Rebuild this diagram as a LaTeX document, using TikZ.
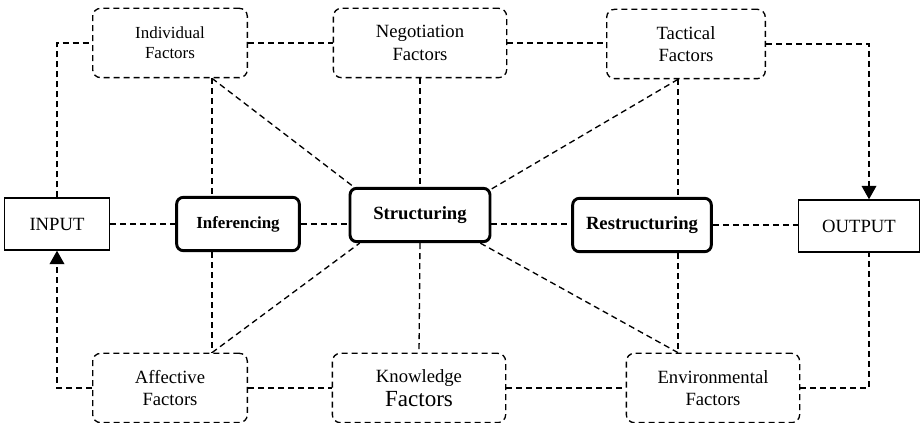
\documentclass[tikz,border=0pt]{standalone}
\usepackage{fontspec}
\setmainfont{Liberation Serif}
\usetikzlibrary{arrows.meta}

\tikzset{
  link/.style={dash pattern=on 4.5pt off 3pt,line width=1pt},
  tip/.style={-{Triangle[width=11pt,length=10pt]}}
}

\begin{document}
\begin{tikzpicture}[x=0.75pt,y=-0.75pt]

      \useasboundingbox (0,0) rectangle (924,423);

      % columns for the vertical links
      \coordinate (colA) at (212,0);
      \coordinate (colC) at (678,0);
      \coordinate (colR) at (869,0);

      \begin{scope}[every node/.style={draw,link,rounded corners=6pt,align=center,
          minimum height=52pt,font=\fontsize{14}{17}\selectfont}]
        \node[minimum width=116pt,font=\fontsize{12.7}{15}\selectfont] (indiv) at (170,43) {Individual\\Factors};
        \node[minimum width=130pt] (negot)  at (420,43)  {Negotiation\\Factors};
        \node[minimum width=119pt] (tactic) at (686,44)  {Tactical\\Factors};
        \node[minimum width=116pt] (affect) at (170,388) {Affective\\Factors};
        \node[minimum width=130pt] (knowl)  at (419,388) {Knowledge\\[1pt]{\fontsize{17.3}{20}\selectfont Factors}};
        \node[minimum width=130pt] (envir)  at (713,388) {Environmental\\Factors};
      \end{scope}

      \begin{scope}[every node/.style={draw,fill=white,line width=2.2pt,rounded corners=5pt,
          minimum height=40pt,font=\bfseries\fontsize{14}{17}\selectfont}]
        \node[minimum width=92pt,font=\bfseries\fontsize{12.7}{15}\selectfont] (infer) at (238,224) {Inferencing};
        \node[minimum width=105pt] (struct)  at (420,215) {Structuring};
        \node[minimum width=104pt] (restruct) at (642,225) {Restructuring};
      \end{scope}

      \begin{scope}[every node/.style={draw,fill=white,line width=1.1pt,
          minimum height=39pt,font=\fontsize{14}{17}\selectfont}]
        \node[minimum width=79pt] (input)  at (57,224)  {INPUT};
        \node[minimum width=91pt] (output) at (859,226) {OUTPUT};
      \end{scope}

      \begin{scope}[every edge/.style={draw,link}]
        % factor rows
        \path (indiv)  edge (negot);
        \path (negot)  edge (tactic.west |- negot);
        \path (affect) edge (knowl);
        \path (knowl)  edge (envir.west |- knowl);
        % middle row
        \path (input.east)  edge (input.east -| infer.west);
        \path (infer.east)  edge (infer.east -| struct.west);
        \path (struct.east |- infer) edge (restruct.west |- infer);
        \path (restruct.east) edge (restruct.east -| output.west);
        % verticals
        \path (indiv.south -| colA)  edge (infer.north -| colA);
        \path (infer.south -| colA)  edge (affect.north -| colA);
        \path (negot.south)  edge (struct.north);
        \path (struct.south) edge (knowl.north);
        \path (tactic.south -| colC) edge (restruct.north -| colC);
        \path (restruct.south -| colC) edge (envir.north -| colC);
        % diagonals
        \path (indiv.south -| colA)  edge (struct.157);
        \path (tactic.south -| colC) edge (struct.20);
        \path (affect.north -| colA) edge (struct.205);
        \path (envir.north -| colC)  edge (struct.335);
      \end{scope}

      % feedback loop
      \draw[link] (input.north) |- (indiv.west);
      \draw[link,tip] (affect.west) -| (input.south);
      \draw[link,tip] (tactic.east) -| (colR |- output.north);
      \draw[link] (envir.east) -| (colR |- output.south);

    \end{tikzpicture}
\end{document}
